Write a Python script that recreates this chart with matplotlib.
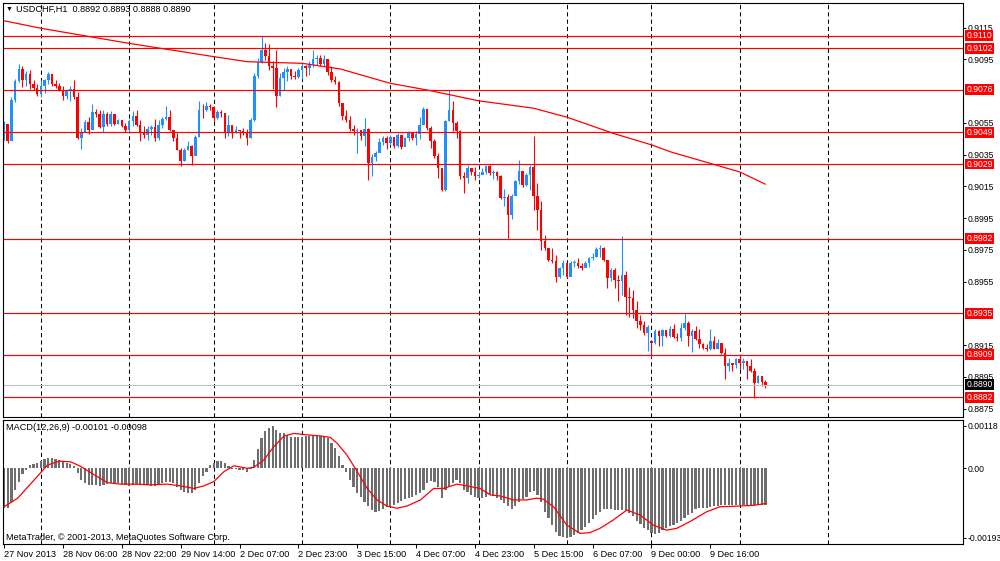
import matplotlib
matplotlib.use("Agg")
import matplotlib.pyplot as plt
import matplotlib.transforms as mtransforms
import numpy as np

W, H = 1000, 561

# USDCHF H1 bars, 27 Nov 2013 14:00 .. 10 Dec 2013 07:00, prices in pips (x 1e-4)
close_pips = [
    9054.4, 9043.5, 9069.5, 9081.3, 9089.0, 9082.0, 9085.9, 9079.6, 9077.0, 9073.3,
    9078.5, 9082.0, 9085.5, 9079.6, 9077.9, 9075.8, 9072.2, 9075.0, 9076.4, 9071.2,
    9045.6, 9049.1, 9055.4, 9050.6, 9061.7, 9060.3, 9052.7, 9060.7, 9054.0, 9060.7,
    9054.4, 9056.5, 9053.3, 9050.2, 9056.0, 9059.1, 9053.9, 9048.6, 9047.6, 9051.1,
    9052.4, 9045.5, 9053.9, 9057.4, 9058.7, 9050.7, 9045.5, 9038.1, 9030.8, 9037.7,
    9040.6, 9033.9, 9046.1, 9063.3, 9062.9, 9065.8, 9065.0, 9058.0, 9061.6, 9061.2,
    9048.6, 9053.9, 9048.6, 9050.7, 9049.7, 9049.0, 9045.5, 9056.6, 9084.3, 9093.1,
    9101.1, 9097.3, 9091.0, 9089.5, 9071.7, 9083.3, 9086.8, 9088.9, 9084.3, 9083.9,
    9088.1, 9090.6, 9089.6, 9092.3, 9095.2, 9096.0, 9092.3, 9095.2, 9086.8, 9082.2,
    9080.5, 9067.5, 9059.5, 9056.6, 9051.1, 9049.7, 9050.7, 9046.9, 9051.1, 9029.7,
    9033.5, 9036.0, 9042.7, 9045.5, 9042.3, 9046.1, 9040.2, 9047.5, 9039.5, 9045.4,
    9048.6, 9045.4, 9047.9, 9053.8, 9063.9, 9051.7, 9043.7, 9033.9, 9026.5, 9012.9,
    9056.3, 9063.3, 9054.9, 9049.6, 9021.3, 9020.2, 9026.5, 9024.0, 9021.3, 9021.9,
    9024.0, 9027.6, 9023.4, 9024.0, 9021.3, 9007.6, 9008.0, 8997.1, 9008.7, 9018.1,
    9024.8, 9016.0, 9022.3, 9027.5, 9009.0, 9000.2, 8980.3, 8976.0, 8968.7, 8967.7,
    8958.2, 8963.5, 8966.6, 8958.2, 8966.6, 8967.0, 8964.9, 8963.5, 8967.0, 8969.8,
    8970.8, 8975.4, 8976.0, 8968.7, 8957.2, 8962.0, 8956.1, 8955.1, 8959.3, 8945.6,
    8944.6, 8937.2, 8929.9, 8927.8, 8922.5, 8926.7, 8916.5, 8923.9, 8920.7, 8924.5,
    8920.7, 8924.9, 8920.3, 8919.7, 8926.0, 8929.1, 8920.7, 8923.9, 8918.6, 8915.5,
    8913.4, 8912.3, 8917.6, 8912.7, 8916.5, 8910.2, 8901.8, 8903.9, 8902.2, 8906.4,
    8903.5, 8904.7, 8901.8, 8898.7, 8891.3, 8895.5, 8892.0, 8890.0,
]
high_pips = [
    9056.1, 9050.2, 9071.2, 9082.8, 9091.8, 9091.0, 9087.6, 9088.4, 9082.0, 9079.6,
    9081.7, 9082.8, 9087.0, 9085.5, 9082.0, 9080.0, 9078.5, 9076.4, 9078.5, 9082.0,
    9074.3, 9051.9, 9056.5, 9058.6, 9067.0, 9063.8, 9063.2, 9062.8, 9061.7, 9062.3,
    9058.8, 9057.5, 9056.9, 9054.8, 9057.5, 9062.3, 9063.3, 9057.0, 9052.8, 9052.8,
    9053.9, 9057.4, 9057.0, 9058.7, 9065.4, 9063.3, 9050.7, 9048.6, 9039.2, 9039.2,
    9043.4, 9041.3, 9047.6, 9068.6, 9067.1, 9067.9, 9067.0, 9065.8, 9063.3, 9063.3,
    9061.2, 9060.2, 9053.9, 9052.8, 9050.7, 9051.8, 9051.1, 9058.0, 9086.4, 9095.9,
    9109.5, 9105.3, 9104.9, 9093.8, 9100.7, 9086.4, 9089.6, 9090.6, 9088.1, 9087.5,
    9089.6, 9092.7, 9091.7, 9093.8, 9101.1, 9098.0, 9098.0, 9098.0, 9095.2, 9090.6,
    9084.3, 9081.2, 9067.1, 9063.3, 9059.5, 9053.9, 9052.0, 9050.7, 9058.0, 9052.0,
    9035.5, 9037.0, 9045.5, 9046.9, 9046.5, 9047.5, 9045.4, 9048.5, 9046.5, 9046.4,
    9049.6, 9048.6, 9049.6, 9059.0, 9064.7, 9061.2, 9052.8, 9045.0, 9036.0, 9026.1,
    9057.0, 9075.9, 9068.5, 9056.3, 9050.7, 9024.0, 9028.6, 9025.5, 9026.9, 9024.0,
    9026.5, 9028.6, 9028.2, 9025.5, 9024.8, 9022.3, 9013.5, 9010.1, 9010.1, 9019.2,
    9031.8, 9024.8, 9023.3, 9028.5, 9047.0, 9017.0, 9005.5, 8984.5, 8976.0, 8976.0,
    8971.9, 8964.5, 8968.7, 8965.6, 8967.7, 8968.7, 8969.8, 8967.0, 8967.7, 8970.8,
    8972.9, 8977.1, 8978.2, 8977.1, 8968.7, 8963.5, 8963.5, 8959.3, 8983.8, 8961.4,
    8951.9, 8949.8, 8942.5, 8934.1, 8929.9, 8927.8, 8917.6, 8925.3, 8924.5, 8925.3,
    8923.9, 8927.0, 8928.0, 8922.8, 8928.7, 8934.4, 8930.2, 8924.9, 8927.0, 8924.9,
    8916.5, 8915.5, 8924.9, 8920.7, 8919.0, 8914.4, 8913.4, 8907.0, 8903.9, 8907.0,
    8909.2, 8907.0, 8902.9, 8906.0, 8900.8, 8895.9, 8895.5, 8893.0,
]
low_pips = [
    9044.3, 9042.2, 9043.9, 9068.0, 9080.6, 9077.5, 9078.5, 9076.4, 9075.8, 9072.2,
    9071.0, 9073.7, 9079.6, 9077.9, 9077.0, 9075.0, 9069.5, 9070.0, 9069.0, 9070.0,
    9044.9, 9038.6, 9049.1, 9048.0, 9055.4, 9058.6, 9051.9, 9049.1, 9053.3, 9053.3,
    9053.6, 9054.4, 9052.7, 9049.1, 9048.8, 9053.2, 9052.8, 9043.4, 9045.5, 9044.4,
    9047.6, 9043.4, 9044.4, 9051.8, 9057.0, 9049.6, 9043.4, 9037.7, 9027.6, 9030.8,
    9038.1, 9028.7, 9035.0, 9046.1, 9058.0, 9062.3, 9063.3, 9056.0, 9057.5, 9058.7,
    9045.5, 9046.5, 9045.5, 9048.6, 9045.5, 9047.6, 9041.3, 9045.5, 9055.9, 9083.3,
    9092.7, 9094.8, 9088.5, 9076.3, 9065.0, 9071.7, 9075.9, 9081.2, 9082.6, 9082.6,
    9083.3, 9082.6, 9084.3, 9085.4, 9090.2, 9091.7, 9090.6, 9091.0, 9085.4, 9080.5,
    9079.7, 9065.8, 9056.6, 9055.3, 9049.7, 9047.6, 9036.0, 9044.4, 9040.2, 9019.2,
    9021.3, 9030.8, 9037.0, 9041.2, 9038.5, 9041.2, 9039.1, 9039.5, 9038.7, 9041.6,
    9043.7, 9044.4, 9041.2, 9045.0, 9054.2, 9050.7, 9039.1, 9032.8, 9020.2, 9011.8,
    9011.8, 9056.0, 9049.6, 9045.4, 9019.8, 9010.8, 9017.1, 9021.9, 9019.2, 9020.2,
    9022.7, 9022.7, 9022.3, 9019.8, 9019.2, 9007.2, 9002.4, 8982.4, 8994.6, 9009.3,
    9016.4, 9014.9, 9015.3, 9012.8, 9000.0, 8987.6, 8975.0, 8975.0, 8967.7, 8966.6,
    8955.0, 8957.2, 8959.3, 8957.2, 8961.4, 8964.5, 8963.5, 8962.4, 8964.9, 8964.5,
    8968.3, 8970.4, 8970.8, 8967.7, 8950.9, 8955.1, 8950.9, 8942.5, 8946.7, 8934.1,
    8933.0, 8932.0, 8925.7, 8924.6, 8921.5, 8911.0, 8907.1, 8915.5, 8914.4, 8914.4,
    8920.3, 8920.3, 8919.7, 8917.6, 8917.6, 8924.5, 8914.4, 8910.6, 8918.2, 8913.4,
    8912.3, 8911.3, 8911.9, 8912.3, 8912.3, 8909.2, 8893.4, 8898.7, 8898.7, 8900.8,
    8899.7, 8899.7, 8893.4, 8898.0, 8881.9, 8891.3, 8889.2, 8888.0,
]
first_open = 9045.6
monday_bar = 176          # 9 Dec 00:00, opens with a weekend gap
monday_open = 8917.8
last_bar_open = 8892.0

# moving average line (read points: bar index, pips)
ma_bar = [0, 10, 33.9, 57, 66.2, 81.1, 91.5, 105, 115, 129, 144, 153.1,
          165.6, 176.2, 181.1, 200.1, 206.9]
ma_pips = [9119.3, 9114.6, 9105.1, 9096.7, 9093.5, 9092.5, 9088.9, 9079.9,
           9075.7, 9068.9, 9064.2, 9058.5, 9048.4, 9041.0, 9036.8, 9024.0, 9016.4]

# MACD(12,26,9) main histogram, units of 1e-5
macd_e5 = [
    -111, -111, -93, -60, -37, -16, -5, 8, 12, 14,
    19, 25, 28, 28, 25, 23, 18, 14, 12, 6,
    -14, -32, -42, -46, -46, -46, -49, -46, -44, -42,
    -42, -42, -44, -46, -49, -46, -44, -44, -46, -46,
    -49, -49, -46, -40, -37, -37, -42, -51, -60, -65,
    -68, -70, -60, -42, -21, -9, 8, 16, 21, 21,
    14, 6, -2, -3, -6, -6, -9, -1, 23, 53,
    83, 105, 111, 118, 107, 99, 97, 93, 88, 88,
    88, 88, 90, 90, 90, 90, 90, 88, 83, 70,
    56, 34, 9, -9, -32, -53, -68, -79, -93, -105,
    -116, -121, -118, -114, -108, -107, -102, -97, -90, -86,
    -83, -79, -74, -70, -60, -40, -34, -37, -51, -83,
    -60, -53, -42, -32, -42, -60, -65, -74, -81, -83,
    -83, -79, -74, -77, -83, -88, -97, -105, -114, -105,
    -93, -86, -79, -65, -62, -74, -93, -121, -139, -158,
    -176, -188, -192, -193, -190, -185, -179, -171, -164, -153,
    -142, -130, -121, -114, -114, -114, -116, -116, -116, -118,
    -125, -134, -146, -155, -167, -173, -179, -183, -179, -171,
    -165, -160, -158, -153, -146, -139, -130, -123, -114, -111,
    -111, -111, -108, -105, -105, -102, -102, -102, -102, -102,
    -102, -102, -102, -102, -103, -103, -102, -101,
]
# signal line (read points: bar index, 1e-5)
signal_bar = [0, 3.7, 8.2, 11.8, 15, 18.1, 20.9, 24.5, 28.1, 31.7, 35.3, 39.9,
              44.4, 48, 51.6, 54.3, 57, 59.8, 62.5, 66.1, 67.9, 70.6, 73.3,
              76.1, 78.8, 82.4, 86, 88.7, 90.5, 93.2, 96, 98.7, 101.4, 104.1,
              106.8, 109.5, 113.2, 116.8, 119.5, 123.1, 125.8, 129.4, 132.2,
              134.9, 138.5, 142.1, 144.8, 146.6, 149.4, 153, 156.6, 159.3, 162,
              165.6, 169.3, 172.9, 176.5, 180.1, 182.9, 186.5, 191, 194.6, 200,
              203.7, 207]
signal_e5 = [-107, -83, -32, 9, 20, 18, 5, -18, -40, -44, -44, -46,
             -44, -49, -56, -49, -37, -9, 7, 0, 3, 23, 60,
             90, 97, 93, 90, 86, 70, 37, -9, -56, -88, -105,
             -111, -105, -88, -56, -56, -44, -49, -56, -74,
             -77, -88, -88, -83, -86, -107, -158, -181, -179, -167,
             -144, -116, -130, -158, -172, -167, -148, -121, -107, -105,
             -103, -98]

levels = [0.9110, 0.9102, 0.9076, 0.9049, 0.9029, 0.8982, 0.8935, 0.8909, 0.8882]
bid = 0.8890
price_ticks = [0.9115, 0.9095, 0.9055, 0.9035, 0.9015, 0.8995, 0.8975, 0.8955,
               0.8915, 0.8895, 0.8875]
macd_ticks = [0.00118, 0.0, -0.00193]
macd_tick_labels = ["0.00118", "0.00", "-0.00193"]
separator_bars = [10, 34, 57, 81, 105, 129, 153, 176, 200, 224]
time_bars = [0, 16, 32, 48, 64, 80, 96, 112, 128, 144, 160, 176, 192]
time_labels = ["27 Nov 2013", "28 Nov 06:00", "28 Nov 22:00", "29 Nov 14:00",
               "2 Dec 07:00", "2 Dec 23:00", "3 Dec 15:00", "4 Dec 07:00",
               "4 Dec 23:00", "5 Dec 15:00", "6 Dec 07:00", "9 Dec 00:00",
               "9 Dec 16:00"]

BLUE = "#1E90FF"
RED = "#FF0000"
FS = 6.6      # general text
FS_Y = 6.2    # right-hand scale

plt.rcParams["font.family"] = ["Liberation Sans", "DejaVu Sans"]

c = np.array(close_pips) / 1e4
hi = np.array(high_pips) / 1e4
lo = np.array(low_pips) / 1e4
o = np.concatenate(([first_open], close_pips[:-1])) / 1e4
o[monday_bar] = monday_open / 1e4
o[-1] = last_bar_open / 1e4
x = np.arange(len(c))

fig = plt.figure(figsize=(W / 100, H / 100), dpi=100)
ax = fig.add_axes([3 / W, 1 - 417 / H, 960 / W, 414 / H])
ax2 = fig.add_axes([3 / W, 1 - 544 / H, 960 / W, 124 / H])

for a in (ax, ax2):
    a.set_xlim(-0.3, 260.7)
    for s in a.spines.values():
        s.set_linewidth(0.8)
        s.set_color("black")
    for b in separator_bars:
        a.axvline(b, color="black", lw=0.75, linestyle=(0, (4, 3)), zorder=0.5)
    a.yaxis.tick_right()
    a.tick_params(axis="y", labelsize=FS_Y, length=2.2, width=0.7, pad=0.8,
                  direction="out")

# main price panel
ax.set_ylim(0.88697, 0.91305)
ax.set_xticks([])
ax.set_yticks(price_ticks, [f"{t:.4f}" for t in price_ticks])

up = c >= o
for mask, col in ((up, BLUE), (~up, RED)):
    ax.vlines(x[mask], lo[mask], hi[mask], color=col, lw=0.8, zorder=2)
    body = np.maximum(np.abs(c - o), 0.00005)[mask]
    ax.bar(x[mask], body, bottom=np.minimum(o, c)[mask], width=0.7,
           color=col, lw=0, zorder=2.1)

ax.plot(ma_bar, np.array(ma_pips) / 1e4, color=RED, lw=0.9, zorder=2.4)

ax.axhline(bid, color="#C0C0C0", lw=0.8, zorder=2.3)
for lvl in levels:
    ax.axhline(lvl, color=RED, lw=0.85, zorder=2.5)

ytrans = mtransforms.blended_transform_factory(ax.transAxes, ax.transData)
for lvl in levels:
    ax.text(1.0035, lvl, f"{lvl:.4f}", transform=ytrans, color="white",
            fontsize=FS_Y, ha="left", va="center", clip_on=False, zorder=5,
            bbox=dict(boxstyle="square,pad=0.1", fc=RED, ec="none"))
ax.text(1.0035, bid, f"{bid:.4f}", transform=ytrans, color="white",
        fontsize=FS_Y, ha="left", va="center", clip_on=False, zorder=5,
        bbox=dict(boxstyle="square,pad=0.1", fc="black", ec="none"))

# MACD panel
ax2.set_ylim(-0.002106, 0.001344)
ax2.bar(x, np.array(macd_e5) * 1e-5, width=0.6, color="#6e6e6e", lw=0, zorder=2)
ax2.plot(signal_bar, np.array(signal_e5) * 1e-5, color=RED, lw=0.9, zorder=3)
ax2.set_yticks(macd_ticks, macd_tick_labels)
ax2.set_xticks(time_bars, time_labels, ha="left")
ax2.tick_params(axis="x", labelsize=FS, length=3, width=0.7, pad=1.5,
                direction="out")

fig.text(6 / W, 1 - 9.5 / H, "\u25bc", fontsize=5, va="center", ha="left")
fig.text(16 / W, 1 - 9.5 / H, "USDCHF,H1  0.8892 0.8893 0.8888 0.8890",
         fontsize=FS, va="center", ha="left")
fig.text(6 / W, 1 - 428 / H, "MACD(12,26,9) -0.00101 -0.00098",
         fontsize=FS, va="center", ha="left")
fig.text(6 / W, 1 - 537 / H, "MetaTrader, \u00a9 2001-2013, MetaQuotes Software Corp.",
         fontsize=FS, va="center", ha="left")

fig.savefig("out.png", dpi=100)
plt.close(fig)
